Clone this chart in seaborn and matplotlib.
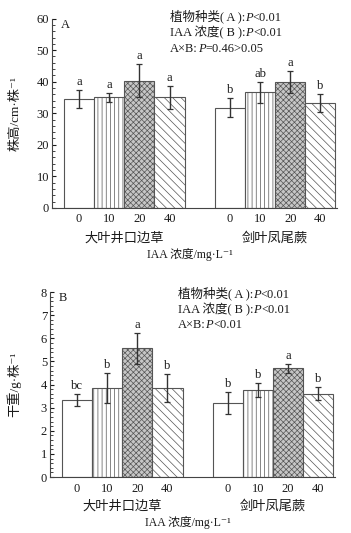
import pandas as pd
import numpy as np
import matplotlib
matplotlib.use('Agg')
import matplotlib.pyplot as plt
import matplotlib.transforms as mtransforms
from matplotlib.ticker import MultipleLocator
import seaborn as sns

'''Data read off the figure'''
species = ['大叶井口边草', '剑叶凤尾蕨']
iaa = ['0', '10', '20', '40']

heightMean = [34.5, 35.0, 40.3, 35.0,
              31.8, 36.6, 39.9, 33.3]
heightSD = [2.8, 1.5, 5.2, 3.5,
            3.0, 3.2, 3.4, 2.8]
heightLetters = ['a', 'a', 'a', 'a',
                 'b', 'ab', 'a', 'b']

weightMean = [3.33, 3.84, 5.57, 3.84,
              3.19, 3.77, 4.70, 3.61]
weightSD = [0.25, 0.65, 0.67, 0.60,
            0.48, 0.30, 0.20, 0.27]
weightLetters = ['bc', 'b', 'a', 'b',
                 'b', 'b', 'a', 'b']

statsA = [('植物种类( A ):', 'P', '<0.01'),
          ('IAA 浓度( B ):', 'P', '<0.01'),
          ('A×B:', 'P', '=0.46>0.05')]
statsB = [('植物种类( A ):', 'P', '<0.01'),
          ('IAA 浓度( B ):', 'P', '<0.01'),
          ('A×B:', 'P', '<0.01')]

sns.set_style('ticks')
plt.rcParams['font.family'] = ['Liberation Serif', 'Noto Sans CJK SC', 'DejaVu Sans']
plt.rcParams['hatch.linewidth'] = 0.5
txtCol = '#1a1a1a'
edgeCol = '#555555'

faces = ['white', 'white', '#c6c6c6', 'white']
hatches = [None, '||||', 'xxxxxx', '\\\\\\\\']


def panel(ax, means, sds, letters, stats, ylab, ylim, major, minor,
          tag, statXY, tagXY, ylabX):
    df = pd.DataFrame({'species': np.repeat(species, 4),
                       'iaa': iaa * 2,
                       'val': means})
    sns.barplot(data=df, x='species', y='val', hue='iaa', ax=ax,
                errorbar=None, legend=False, width=0.8,
                palette=faces, edgecolor=edgeCol, linewidth=0.8, saturation=1)

    #hatches and bar centres
    centers = []
    tops = []
    for k, cont in enumerate(ax.containers):
        for p in cont.patches:
            p.set_hatch(hatches[k])
            p.set_facecolor(faces[k])
            p.set_edgecolor(edgeCol)
    for j in range(2):
        for k in range(4):
            p = ax.containers[k].patches[j]
            centers.append(p.get_x() + p.get_width() / 2)
            tops.append(p.get_height())

    ax.errorbar(centers, tops, yerr=sds, fmt='none', ecolor='#333333',
                elinewidth=1, capsize=2.2, capthick=0.9, zorder=5)
    for cx, t, s, lab in zip(centers, tops, sds, letters):
        ax.annotate(lab, xy=(cx, t + s), xytext=(0, 1.5),
                    textcoords='offset points', ha='center', va='bottom',
                    fontsize=9, color=txtCol)

    #Axis specs
    ax.set_xlim(-0.48, 1.41)
    ax.set_ylim(*ylim)
    ax.yaxis.set_major_locator(MultipleLocator(major))
    ax.yaxis.set_minor_locator(MultipleLocator(minor))
    ax.set_xticks(centers)
    ax.set_xticklabels(iaa * 2)
    ax.tick_params(axis='x', length=0, pad=4, labelsize=9, colors=txtCol)
    ax.tick_params(axis='y', which='major', direction='in', length=3,
                   width=0.8, labelsize=9, colors=txtCol, pad=2)
    ax.tick_params(axis='y', which='minor', direction='in', length=1.8, width=0.6)
    for sp in ['top', 'right']:
        ax.spines[sp].set_visible(False)
    for sp in ['left', 'bottom']:
        ax.spines[sp].set_color('#444444')
        ax.spines[sp].set_linewidth(0.8)

    ax.set_xlabel('')
    ax.set_ylabel(ylab, fontsize=9.5, color=txtCol)
    ax.yaxis.set_label_coords(ylabX, 0.5)

    trans = mtransforms.blended_transform_factory(ax.transData, ax.transAxes)
    ax.text(0, -0.16, species[0], transform=trans, ha='center', va='center',
            fontsize=9.5, color=txtCol)
    ax.text(1, -0.16, species[1], transform=trans, ha='center', va='center',
            fontsize=9.5, color=txtCol)
    ax.text(0.435, -0.245, 'IAA 浓度/mg·L⁻¹', transform=trans, ha='center',
            va='center', fontsize=8.5, color=txtCol)

    ax.text(tagXY[0], tagXY[1], tag, transform=ax.transAxes, ha='left',
            va='center', fontsize=9, color=txtCol)

    #stats text with italic P
    y = statXY[1]
    for pre, pp, post in stats:
        t1 = ax.text(statXY[0], y, pre, transform=ax.transAxes, ha='left',
                     va='baseline', fontsize=9, color=txtCol)
        t2 = ax.annotate(pp, xy=(1, 0), xycoords=t1, ha='left', va='bottom',
                         fontsize=9, style='italic', color=txtCol)
        t3 = ax.annotate(post, xy=(1, 0), xycoords=t2, ha='left', va='bottom',
                         fontsize=9, color=txtCol)
        y -= 0.083


fig = plt.figure(figsize=(3.51, 5.33), dpi=100)
axA = fig.add_axes([0.148, 0.610, 0.812, 0.355])
axB = fig.add_axes([0.142, 0.105, 0.812, 0.347])

panel(axA, heightMean, heightSD, heightLetters, statsA,
      '株高/cm·株⁻¹', (0, 60), 10, 2, 'A', (0.414, 0.99), (0.03, 0.965), -0.105)
panel(axB, weightMean, weightSD, weightLetters, statsB,
      '干重/g·株⁻¹', (0, 8), 1, 0.2, 'B', (0.449, 0.97), (0.03, 0.97), -0.1)

fig.savefig('out.png', dpi=100)
